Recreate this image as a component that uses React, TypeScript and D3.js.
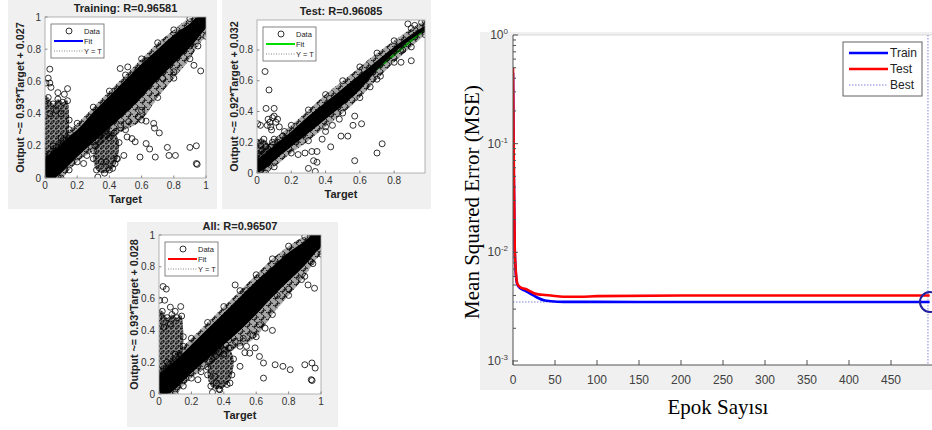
import React from 'react';
import * as d3 from 'd3';

type Pt = [number, number];

// ---------- Training regression ----------
const trainBandX = [0, 0.05, 0.1, 0.15, 0.2, 0.3, 0.4, 0.5, 0.6, 0.7, 0.8, 0.9, 0.95, 1];
const trainBandLo = [0, 0, 0.03, 0.08, 0.13, 0.22, 0.31, 0.4, 0.5, 0.61, 0.71, 0.81, 0.87, 0.93];
const trainBandHi = [0.12, 0.17, 0.21, 0.26, 0.3, 0.41, 0.51, 0.61, 0.71, 0.8, 0.89, 0.96, 1, 1];
const trainHazeLo = [0, 0, 0, 0.05, 0.1, 0.17, 0.25, 0.3, 0.36, 0.5, 0.62, 0.74, 0.82, 0.88];
const trainHazeHi = [0.15, 0.2, 0.25, 0.3, 0.34, 0.44, 0.54, 0.64, 0.74, 0.84, 0.92, 0.99, 1, 1];
const trainClusters: Pt[][] = [
  [[0, 0.02], [0, 0.46], [0.02, 0.5], [0.05, 0.46], [0.08, 0.49], [0.11, 0.47], [0.14, 0.48], [0.15, 0.36], [0.14, 0.22], [0.1, 0.12], [0.05, 0.06]],
  [[0.3, 0.12], [0.31, 0.2], [0.34, 0.26], [0.38, 0.29], [0.43, 0.28], [0.46, 0.22], [0.45, 0.12], [0.42, 0.06], [0.37, 0.03], [0.32, 0.05]],
];
const trainPoints: Pt[] = [
  [0.03, 0.676], [0.006, 0.59], [0.03, 0.59], [0.037, 0.563], [0.14, 0.555], [0.08, 0.53], [0.12, 0.52], [0.02, 0.62],
  [0.467, 0.68], [0.514, 0.69], [0.57, 0.66], [0.64, 0.73], [0.9, 0.82], [0.925, 0.7], [0.967, 0.665], [0.85, 0.84],
  [0.628, 0.353], [0.675, 0.339], [0.68, 0.31], [0.71, 0.28], [0.628, 0.214], [0.65, 0.18], [0.54, 0.245],
  [0.56, 0.225], [0.59, 0.13], [0.685, 0.13], [0.76, 0.19], [0.77, 0.14], [0.81, 0.14], [0.9, 0.19], [0.94, 0.2],
  [0.94, 0.09], [0.945, 0.085], [0.51, 0.255], [0.49, 0.14], [0.445, 0.12], [0.328, 0.006], [0.35, 0.1],
  [0.38, 0.1], [0.435, 0.09], [0.4, 0.05], [0.26, 0.14], [0.24, 0.09], [0.47, 0.33], [0.52, 0.35], [0.58, 0.38],
  [0.6, 0.42], [0.44, 0.29], [0.36, 0.3], [0.73, 0.62], [0.8, 0.66], [0.07, 0.42], [0.1, 0.4], [0.03, 0.4],
];

// ---------- Test regression ----------
const testBandX = [0, 0.05, 0.1, 0.2, 0.3, 0.4, 0.5, 0.6, 0.7, 0.8, 0.9, 0.98];
const testBandLo = [0, 0.03, 0.08, 0.17, 0.26, 0.35, 0.44, 0.54, 0.67, 0.78, 0.87, 0.93];
const testBandHi = [0.09, 0.13, 0.18, 0.27, 0.37, 0.46, 0.55, 0.64, 0.73, 0.82, 0.9, 0.96];
const testHazeLo = [0, 0, 0.04, 0.13, 0.21, 0.3, 0.39, 0.49, 0.61, 0.72, 0.82, 0.9];
const testHazeHi = [0.12, 0.17, 0.22, 0.31, 0.41, 0.51, 0.6, 0.69, 0.78, 0.86, 0.94, 0.99];
const testClusters: Pt[][] = [
  [[0, 0.04], [0, 0.2], [0.04, 0.22], [0.08, 0.17], [0.1, 0.12], [0.05, 0.06]],
];
const testPoints: Pt[] = [
  [0.047, 0.66], [0.07, 0.54], [0.053, 0.42], [0.1, 0.42], [0.09, 0.36], [0.075, 0.33], [0.11, 0.33], [0.06, 0.31],
  [0.13, 0.3], [0.004, 0.32], [0.02, 0.31], [0.15, 0.24], [0.12, 0.2], [0.02, 0.18], [0.014, 0.11], [0.03, 0.15],
  [0.09, 0.2], [0.16, 0.27], [0.35, 0.14], [0.33, 0.08], [0.34, 0.01], [0.3, 0.03], [0.35, 0.07], [0.32, 0.14],
  [0.43, 0.17], [0.49, 0.24], [0.44, 0.31], [0.57, 0.37], [0.61, 0.32], [0.56, 0.31], [0.73, 0.19], [0.7, 0.13],
  [0.57, 0.08], [0.84, 0.72], [0.9, 0.73], [0.85, 0.8], [0.53, 0.24], [0.48, 0.35], [0.38, 0.22], [0.4, 0.27],
  [0.88, 0.97], [0.92, 0.96], [0.96, 0.98], [0.66, 0.56], [0.72, 0.63], [0.28, 0.13], [0.24, 0.12],
  [0.08, 0.3], [0.1, 0.37], [0.12, 0.35], [0.085, 0.28], [0.065, 0.35],
];

// ---------- All regression ----------
const allBandX = [0, 0.05, 0.1, 0.15, 0.2, 0.3, 0.4, 0.5, 0.6, 0.7, 0.8, 0.9, 0.95, 1];
const allBandLo = [0, 0, 0.03, 0.08, 0.13, 0.22, 0.31, 0.4, 0.5, 0.61, 0.71, 0.81, 0.87, 0.93];
const allBandHi = [0.12, 0.17, 0.21, 0.26, 0.31, 0.41, 0.51, 0.61, 0.71, 0.8, 0.89, 0.96, 1, 1];
const allHazeLo = [0, 0, 0, 0.05, 0.1, 0.17, 0.25, 0.3, 0.36, 0.5, 0.62, 0.74, 0.82, 0.88];
const allHazeHi = [0.15, 0.2, 0.25, 0.3, 0.35, 0.45, 0.55, 0.65, 0.75, 0.85, 0.93, 0.99, 1, 1];
const allClusters: Pt[][] = [
  [[0, 0.02], [0, 0.48], [0.02, 0.52], [0.05, 0.48], [0.08, 0.5], [0.11, 0.48], [0.14, 0.49], [0.15, 0.36], [0.14, 0.22], [0.1, 0.12], [0.05, 0.06]],
  [[0.3, 0.12], [0.31, 0.21], [0.34, 0.27], [0.38, 0.3], [0.43, 0.29], [0.46, 0.22], [0.45, 0.12], [0.42, 0.06], [0.37, 0.03], [0.32, 0.05]],
];
const allPoints: Pt[] = [
  [0.025, 0.676], [0.045, 0.66], [0.004, 0.59], [0.035, 0.59], [0.07, 0.546], [0.134, 0.55], [0.1, 0.52],
  [0.47, 0.686], [0.54, 0.65], [0.57, 0.61], [0.88, 0.72], [0.92, 0.686], [0.96, 0.665], [0.9, 0.84], [0.94, 0.83],
  [0.62, 0.435], [0.655, 0.414], [0.7, 0.4], [0.58, 0.37], [0.376, 0.36], [0.43, 0.34], [0.56, 0.257], [0.62, 0.236],
  [0.645, 0.195], [0.717, 0.184], [0.765, 0.174], [0.81, 0.153], [0.645, 0.1], [0.54, 0.3], [0.593, 0.29],
  [0.5, 0.174], [0.53, 0.26], [0.438, 0.069], [0.376, 0.027], [0.355, 0.069], [0.345, 0.11], [0.9, 0.184],
  [0.944, 0.195], [0.964, 0.163], [0.94, 0.09], [0.945, 0.085], [0.26, 0.14], [0.24, 0.09], [0.47, 0.33],
  [0.52, 0.35], [0.44, 0.29], [0.73, 0.62], [0.8, 0.66], [0.33, 0.01], [0.07, 0.44], [0.03, 0.42],
];

// ---------- Performance (MSE) ----------
const mseEpoch = [0, 1, 2, 3, 4, 5, 7, 10, 15, 20, 25, 30, 38, 45, 60, 80, 100, 200, 300, 400, 496];
const trainMse = [0.45, 0.05, 0.011, 0.007, 0.0056, 0.0051, 0.0048, 0.0046, 0.0044, 0.0042, 0.004, 0.0038, 0.0036, 0.00355, 0.0035, 0.0035, 0.0035, 0.00349, 0.00349, 0.00349, 0.00349];
const testMse = [0.5, 0.06, 0.012, 0.0075, 0.0058, 0.0052, 0.0049, 0.0047, 0.0046, 0.0044, 0.0042, 0.0041, 0.00405, 0.004, 0.0039, 0.0039, 0.00395, 0.004, 0.004, 0.004, 0.004];
const bestEpoch = 494;
const bestMse = 0.00349;
const epochTicks = [0, 50, 100, 150, 200, 250, 300, 350, 400, 450];
const legendNames = ['Train', 'Test', 'Best'];

const SANS = 'Liberation Sans, Arial, sans-serif';
const SERIF = 'Liberation Serif, Times New Roman, serif';

interface PanelSpec {
  id: string;
  bg: [number, number, number, number];
  plot: [number, number, number, number]; // x0, y0, x1, y1
  title: string;
  yLabel: string;
  yLabelX: number;
  slope: number;
  intercept: number;
  fitColor: string;
  xMax: number;
  yMax: number;
  ticks: number[];
  bandX: number[];
  bandLo: number[];
  bandHi: number[];
  hazeLo: number[];
  hazeHi: number[];
  clusters: Pt[][];
  points: Pt[];
}

function Regression(p: PanelSpec) {
  const [x0, y0, x1, y1] = p.plot;
  const x = d3.scaleLinear().domain([0, p.xMax]).range([x0, x1]);
  const y = d3.scaleLinear().domain([0, p.yMax]).range([y1, y0]);
  const idx = d3.range(p.bandX.length);
  const band = d3.area<number>().x(i => x(p.bandX[i])).y0(i => y(p.bandLo[i])).y1(i => y(p.bandHi[i])).curve(d3.curveMonotoneX);
  const haze = d3.area<number>().x(i => x(p.bandX[i])).y0(i => y(p.hazeLo[i])).y1(i => y(p.hazeHi[i])).curve(d3.curveMonotoneX);
  const blob = d3.line<Pt>().x(d => x(d[0])).y(d => y(d[1])).curve(d3.curveCardinalClosed);
  const clip = `clip-${p.id}`;
  const cx = (x0 + x1) / 2;
  const lx = x0 + 6, ly = y0 + 7;
  const ring = (d: Pt, k: string) => (
    <circle key={k} cx={x(d[0])} cy={y(d[1])} r={3} fill="none" stroke="#000" strokeWidth={0.8} />
  );
  return (
    <g>
      <rect x={p.bg[0]} y={p.bg[1]} width={p.bg[2]} height={p.bg[3]} fill="#f0f0f0" />
      <rect x={x0} y={y0} width={x1 - x0} height={y1 - y0} fill="#fff" />
      <clipPath id={clip}><rect x={x0} y={y0} width={x1 - x0} height={y1 - y0} /></clipPath>
      <g clipPath={`url(#${clip})`}>
        <line x1={x(0)} y1={y(0)} x2={x(p.xMax)} y2={y(p.xMax)} stroke="#666" strokeDasharray="1,1.5" strokeWidth={0.8} />
        <line x1={x(0)} y1={y(p.intercept)} x2={x(p.xMax)} y2={y(p.slope * p.xMax + p.intercept)} stroke={p.fitColor} strokeWidth={2.2} />
        <path d={haze(idx) || ''} fill="#000" fillOpacity={0.35} />
        <path d={haze(idx) || ''} fill="url(#sparse)" />
        {p.clusters.map((c, i) => (
          <g key={i}>
            <path d={blob(c) || ''} fill="#000" fillOpacity={0.45} />
            <path d={blob(c) || ''} fill="url(#dense)" />
            {c.map((d, j) => ring(d, `c${i}-${j}`))}
          </g>
        ))}
        <path d={band(idx) || ''} fill="#000" />
        {idx.map(i => ring([p.bandX[i], p.hazeLo[i]], `lo${i}`))}
        {idx.map(i => ring([p.bandX[i], p.hazeHi[i]], `hi${i}`))}
        {p.points.map((d, i) => ring(d, `p${i}`))}
      </g>
      <rect x={x0} y={y0} width={x1 - x0} height={y1 - y0} fill="none" stroke="#a0a0a0" strokeWidth={0.8} />
      {p.ticks.map(t => (
        <g key={t} fill="#333" fontFamily={SANS} fontSize={10}>
          <line x1={x(t)} x2={x(t)} y1={y1} y2={y1 - 2.5} stroke="#888" />
          <line x1={x0} x2={x0 + 2.5} y1={y(t)} y2={y(t)} stroke="#888" />
          <text x={x(t)} y={y1 + 11} textAnchor="middle">{String(t)}</text>
          <text x={x0 - 4} y={y(t) + 3.5} textAnchor="end">{String(t)}</text>
        </g>
      ))}
      <text x={cx} y={y0 - 5} textAnchor="middle" fontFamily={SANS} fontWeight="bold" fontSize={11} fill="#222">{p.title}</text>
      <text x={cx} y={y1 + 25} textAnchor="middle" fontFamily={SANS} fontWeight="bold" fontSize={11} fill="#222">Target</text>
      <text transform={`translate(${p.yLabelX},${(y0 + y1) / 2}) rotate(-90)`} textAnchor="middle" dominantBaseline="central"
        fontFamily={SANS} fontWeight="bold" fontSize={10.8} fill="#222">{p.yLabel}</text>
      <g fontFamily={SANS} fontSize={7.5} fill="#222">
        <rect x={lx} y={ly} width={53} height={34} fill="#fff" stroke="#666" strokeWidth={0.8} />
        <circle cx={lx + 18} cy={ly + 7} r={3} fill="none" stroke="#000" strokeWidth={0.8} />
        <text x={lx + 33} y={ly + 10}>Data</text>
        <line x1={lx + 3} x2={lx + 32} y1={ly + 17} y2={ly + 17} stroke={p.fitColor} strokeWidth={2} />
        <text x={lx + 33} y={ly + 20}>Fit</text>
        <line x1={lx + 3} x2={lx + 32} y1={ly + 27} y2={ly + 27} stroke="#666" strokeDasharray="1,1.5" strokeWidth={0.8} />
        <text x={lx + 33} y={ly + 30}>Y = T</text>
      </g>
    </g>
  );
}

function Performance() {
  const x0 = 513, x1 = 933, y0 = 35, y1 = 365;
  const x = d3.scaleLinear().domain([0, 500]).range([x0, x1]);
  const y = d3.scaleLog().domain([Math.pow(10, -3.037), 1]).range([y1, y0]);
  const line = (vals: number[]) =>
    d3.line<number>().x(i => x(mseEpoch[i])).y(i => y(vals[i])).curve(d3.curveMonotoneX)(d3.range(mseEpoch.length)) || '';
  const yTicks = y.ticks().filter(v => v >= 0.001 && v <= 1);
  const isMajor = (v: number) => Math.abs(Math.log10(v) - Math.round(Math.log10(v))) < 1e-6;
  const lg = { x: 843, y: 42 };
  const colors = ['#0000ff', '#ff0000'];
  return (
    <g>
      <rect x={480} y={32} width={460} height={358} fill="#f0f0f0" />
      <rect x={x0} y={y0} width={x1 - x0} height={y1 - y0} fill="#fff" />
      <line x1={x0} x2={x1} y1={y0} y2={y0} stroke="#d8d8d8" />
      <clipPath id="perf-clip"><rect x={x0} y={y0 - 2} width={x1 - x0} height={y1 - y0 + 2} /></clipPath>
      <g clipPath="url(#perf-clip)">
        <line x1={x0} x2={x(bestEpoch)} y1={y(bestMse)} y2={y(bestMse)} stroke="#8080e0" strokeDasharray="1.5,1.5" strokeWidth={1} />
        <line x1={x(bestEpoch)} x2={x(bestEpoch)} y1={y0} y2={y1} stroke="#8080e0" strokeDasharray="1.5,1.5" strokeWidth={1} />
        <path d={line(trainMse)} fill="none" stroke={colors[0]} strokeWidth={2.6} />
        <path d={line(testMse)} fill="none" stroke={colors[1]} strokeWidth={2.6} />
      </g>
      <circle cx={x(bestEpoch) + 2} cy={y(bestMse)} r={10} fill="none" stroke="#2020a0" strokeWidth={2} />
      <line x1={x0} x2={x0} y1={y0} y2={y1} stroke="#505050" />
      <line x1={x0} x2={x1} y1={y1} y2={y1} stroke="#505050" />
      {yTicks.map(v => (
        <line key={v} x1={x0} x2={x0 + (isMajor(v) ? 5 : 3)} y1={y(v)} y2={y(v)} stroke="#505050" />
      ))}
      {yTicks.filter(isMajor).map(v => (
        <text key={v} x={508} y={y(v) + 4} textAnchor="end" fontFamily={SANS} fontSize={12} fill="#404040">
          10<tspan dy={-5} fontSize={8}>{String(Math.round(Math.log10(v)))}</tspan>
        </text>
      ))}
      {epochTicks.map(t => (
        <g key={t}>
          <line x1={x(t)} x2={x(t)} y1={y1} y2={y1 - 5} stroke="#505050" />
          <text x={x(t)} y={y1 + 19} textAnchor="middle" fontFamily={SANS} fontSize={12} fill="#404040">{t}</text>
        </g>
      ))}
      <g fontFamily={SANS} fontSize={12} fill="#222">
        <rect x={lg.x} y={lg.y} width={79} height={54} fill="#fff" stroke="#606060" />
        {legendNames.map((n, i) => (
          <g key={n}>
            <line x1={lg.x + 6} x2={lg.x + 45} y1={lg.y + 11 + i * 16} y2={lg.y + 11 + i * 16}
              stroke={i < 2 ? colors[i] : '#8080e0'} strokeWidth={i < 2 ? 2.6 : 1} strokeDasharray={i < 2 ? undefined : '1.5,1.5'} />
            <text x={lg.x + 47} y={lg.y + 15 + i * 16}>{n}</text>
          </g>
        ))}
      </g>
      <text transform="translate(472,202) rotate(-90)" textAnchor="middle" dominantBaseline="central"
        fontFamily={SERIF} fontSize={21} fill="#000">Mean Squared Error (MSE)</text>
      <text x={718} y={414} textAnchor="middle" fontFamily={SERIF} fontSize={21} fill="#000">Epok Sayısı</text>
    </g>
  );
}

const panels: PanelSpec[] = [
  {
    id: 'train', bg: [8, 0, 209, 209], plot: [45, 17, 206, 178], title: 'Training: R=0.96581',
    yLabel: 'Output ~= 0.93*Target + 0.027', yLabelX: 20, slope: 0.93, intercept: 0.027, fitColor: '#0000ff',
    xMax: 1, yMax: 1, ticks: [0, 0.2, 0.4, 0.6, 0.8, 1],
    bandX: trainBandX, bandLo: trainBandLo, bandHi: trainBandHi, hazeLo: trainHazeLo, hazeHi: trainHazeHi,
    clusters: trainClusters, points: trainPoints,
  },
  {
    id: 'test', bg: [222, 0, 209, 209], plot: [257, 20, 425, 173], title: 'Test: R=0.96085',
    yLabel: 'Output ~= 0.92*Target + 0.032', yLabelX: 234, slope: 0.92, intercept: 0.032, fitColor: '#00dd00',
    xMax: 0.98, yMax: 0.995, ticks: [0, 0.2, 0.4, 0.6, 0.8],
    bandX: testBandX, bandLo: testBandLo, bandHi: testBandHi, hazeLo: testHazeLo, hazeHi: testHazeHi,
    clusters: testClusters, points: testPoints,
  },
  {
    id: 'all', bg: [127, 222, 211, 205], plot: [159, 235, 321, 394], title: 'All: R=0.96507',
    yLabel: 'Output ~= 0.93*Target + 0.028', yLabelX: 134, slope: 0.93, intercept: 0.028, fitColor: '#ff0000',
    xMax: 1, yMax: 1, ticks: [0, 0.2, 0.4, 0.6, 0.8, 1],
    bandX: allBandX, bandLo: allBandLo, bandHi: allBandHi, hazeLo: allHazeLo, hazeHi: allHazeHi,
    clusters: allClusters, points: allPoints,
  },
];

export default function App() {
  return (
    <svg width={932} height={430} style={{ position: 'absolute', left: 0, top: 0, background: '#fff' }}>
      <defs>
        <pattern id="dense" patternUnits="userSpaceOnUse" width={5} height={5}>
          <circle cx={1} cy={1} r={2.8} fill="none" stroke="#000" strokeWidth={0.8} />
          <circle cx={3.5} cy={3.5} r={2.8} fill="none" stroke="#000" strokeWidth={0.8} />
        </pattern>
        <pattern id="sparse" patternUnits="userSpaceOnUse" width={7} height={7}>
          <circle cx={2} cy={2} r={3} fill="none" stroke="#000" strokeWidth={0.8} />
          <circle cx={5.5} cy={5} r={3} fill="none" stroke="#000" strokeWidth={0.8} />
        </pattern>
      </defs>
      {panels.map(p => <Regression key={p.id} {...p} />)}
      <Performance />
    </svg>
  );
}
